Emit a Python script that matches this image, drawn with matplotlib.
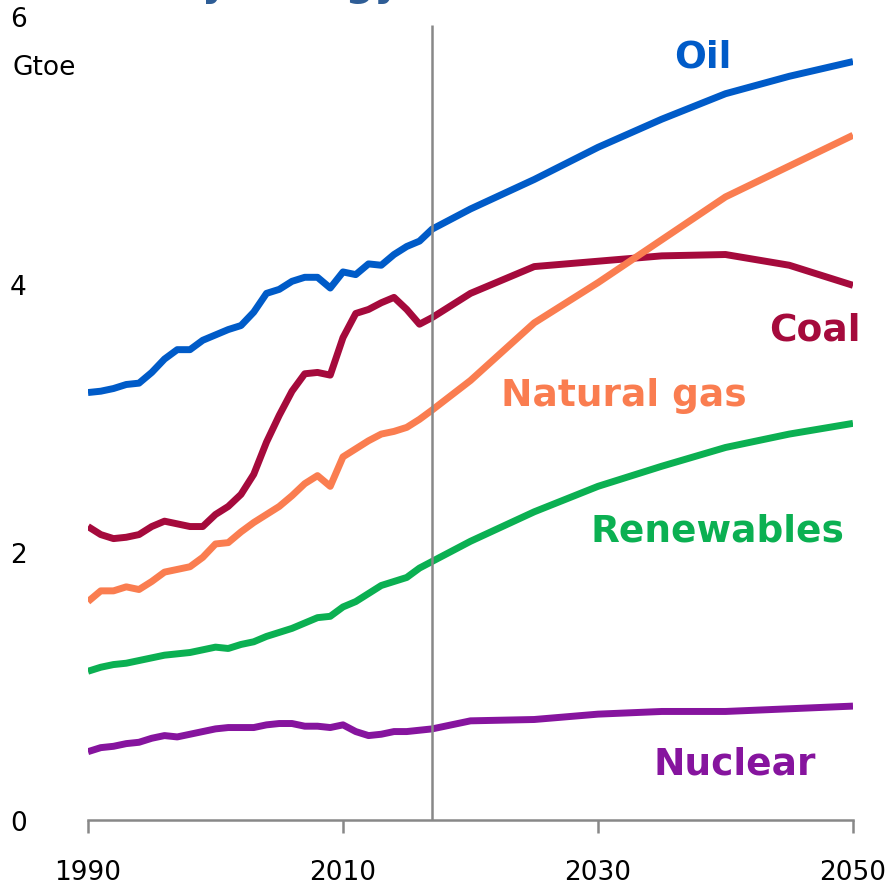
import matplotlib
matplotlib.use("Agg")
import matplotlib.pyplot as plt

# historical years (annual) then projections
hist_years = list(range(1990, 2018))
proj_years = [2020, 2025, 2030, 2035, 2040, 2045, 2050]
years = hist_years + proj_years

oil = [3.19, 3.20, 3.22, 3.25, 3.26, 3.34, 3.44, 3.51, 3.51, 3.58,
       3.62, 3.66, 3.69, 3.79, 3.93, 3.96, 4.02, 4.05, 4.05, 3.97,
       4.09, 4.07, 4.15, 4.14, 4.22, 4.28, 4.32, 4.41,
       4.56, 4.78, 5.02, 5.23, 5.42, 5.55, 5.66]
coal = [2.19, 2.13, 2.10, 2.11, 2.13, 2.19, 2.23, 2.21, 2.19, 2.19,
        2.28, 2.34, 2.43, 2.58, 2.82, 3.02, 3.20, 3.33, 3.34, 3.32,
        3.60, 3.78, 3.81, 3.86, 3.90, 3.81, 3.70, 3.75,
        3.93, 4.13, 4.17, 4.21, 4.22, 4.14, 3.99]
gas = [1.63, 1.71, 1.71, 1.74, 1.72, 1.78, 1.85, 1.87, 1.89, 1.96,
       2.06, 2.07, 2.15, 2.22, 2.28, 2.34, 2.42, 2.51, 2.57, 2.49,
       2.71, 2.77, 2.83, 2.88, 2.90, 2.93, 2.99, 3.06,
       3.28, 3.71, 4.01, 4.33, 4.65, 4.88, 5.11]
renewables = [1.11, 1.14, 1.16, 1.17, 1.19, 1.21, 1.23, 1.24, 1.25, 1.27,
              1.29, 1.28, 1.31, 1.33, 1.37, 1.40, 1.43, 1.47, 1.51, 1.52,
              1.59, 1.63, 1.69, 1.75, 1.78, 1.81, 1.88, 1.93,
              2.08, 2.30, 2.49, 2.64, 2.78, 2.88, 2.96]
nuclear = [0.51, 0.54, 0.55, 0.57, 0.58, 0.61, 0.63, 0.62, 0.64, 0.66,
           0.68, 0.69, 0.69, 0.69, 0.71, 0.72, 0.72, 0.70, 0.70, 0.69,
           0.71, 0.66, 0.63, 0.64, 0.66, 0.66, 0.67, 0.68,
           0.74, 0.75, 0.79, 0.81, 0.81, 0.83, 0.85]

names = ["Oil", "Coal", "Natural gas", "Renewables", "Nuclear"]
colors = ["#005BC8", "#A50A3C", "#FA7D50", "#0BB052", "#86149E"]
label_xy = [(2038.2, 5.73), (2047.0, 3.69), (2032.0, 3.20), (2039.4, 2.19), (2040.7, 0.45)]

xticks = [1990, 2010, 2030, 2050]
yticks = [0, 2, 4, 6]

fig = plt.figure(figsize=(8.93, 8.87), dpi=100)
ax = fig.add_axes([88 / 893, (887 - 821) / 887, (853 - 88) / 893, 804 / 887])

for name, vals, c, (lx, ly) in zip(names, [oil, coal, gas, renewables, nuclear], colors, label_xy):
    ax.plot(years, vals, color=c, lw=5, solid_joinstyle="round", solid_capstyle="butt")
    ax.text(lx, ly, name, color=c, fontsize=27, fontweight="bold", ha="center", va="center_baseline")

# start of projections
ax.vlines(2017, 0, 5.93, color="#888888", lw=1.8)

ax.set_xlim(1990, 2050)
ax.set_ylim(0, 6)
for s in ["top", "right", "left"]:
    ax.spines[s].set_visible(False)
ax.spines["bottom"].set_color("#888888")
ax.spines["bottom"].set_linewidth(1.8)

ax.set_xticks(xticks)
ax.set_xticklabels([str(t) for t in xticks], fontsize=19)
ax.tick_params(axis="x", length=9, width=1.8, color="#888888", pad=19)
ax.set_yticks(yticks)
ax.set_yticklabels([str(t) for t in yticks], fontsize=19)
ax.tick_params(axis="y", length=0, pad=44)

fig.text(12 / 893, 1 - 68 / 887, "Gtoe", fontsize=19, ha="left", va="center")
# title sits mostly above the canvas, as in the reference crop
fig.text(400 / 893, 1 + 5 / 887, "Primary energy", fontsize=29, fontweight="bold",
         color="#2E5D96", ha="right", va="baseline")

fig.savefig("out.png", dpi=100)
